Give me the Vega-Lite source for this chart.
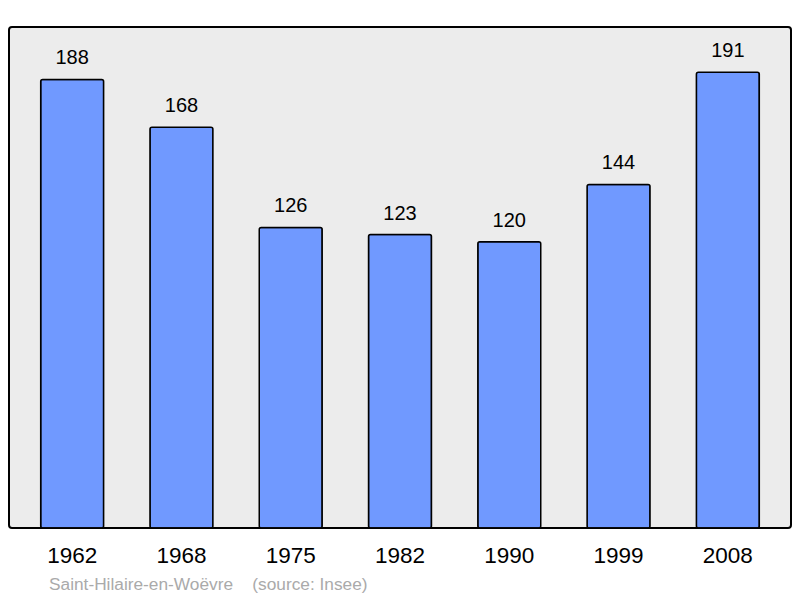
{
  "$schema": "https://vega.github.io/schema/vega-lite/v6.json",
  "width": 782,
  "height": 501,
  "autosize": {"type": "none"},
  "padding": {"left": 9, "top": 27, "right": 9, "bottom": 70},
  "background": "white",
  "config": {
    "view": {"fill": "#ececec", "stroke": "#000000", "strokeWidth": 2, "cornerRadius": 3},
    "font": "Liberation Sans"
  },
  "title": {
    "text": "Saint-Hilaire-en-Woëvre\u00a0\u00a0\u00a0\u00a0(source: Insee)",
    "orient": "bottom",
    "anchor": "start",
    "frame": "group",
    "dx": 40,
    "offset": 9,
    "fontSize": 17.3,
    "fontWeight": "normal",
    "color": "#aaaaaa",
    "font": "Liberation Sans"
  },
  "data": {
    "values": [
      {"year": "1962", "pop": 188},
      {"year": "1968", "pop": 168},
      {"year": "1975", "pop": 126},
      {"year": "1982", "pop": 123},
      {"year": "1990", "pop": 120},
      {"year": "1999", "pop": 144},
      {"year": "2008", "pop": 191}
    ]
  },
  "encoding": {
    "x": {
      "field": "year", "type": "nominal", "sort": null,
      "scale": {"paddingInner": 0.424, "paddingOuter": 0.29},
      "axis": {"title": null, "ticks": false, "domain": false, "labelAngle": 0, "labelFontSize": 22.5, "labelColor": "#000000", "labelPadding": 16, "labelFont": "Liberation Sans"}
    },
    "y": {
      "field": "pop", "type": "quantitative",
      "scale": {"domain": [0, 210], "nice": false, "zero": true},
      "axis": null
    }
  },
  "layer": [
    {
      "mark": {"type": "bar", "fill": "#7099ff", "stroke": "#000000", "strokeWidth": 1.5, "cornerRadius": 2}
    },
    {
      "mark": {"type": "text", "baseline": "bottom", "dy": -11, "fontSize": 20, "color": "#000000", "font": "Liberation Sans"},
      "encoding": {"text": {"field": "pop", "type": "quantitative"}}
    }
  ]
}
